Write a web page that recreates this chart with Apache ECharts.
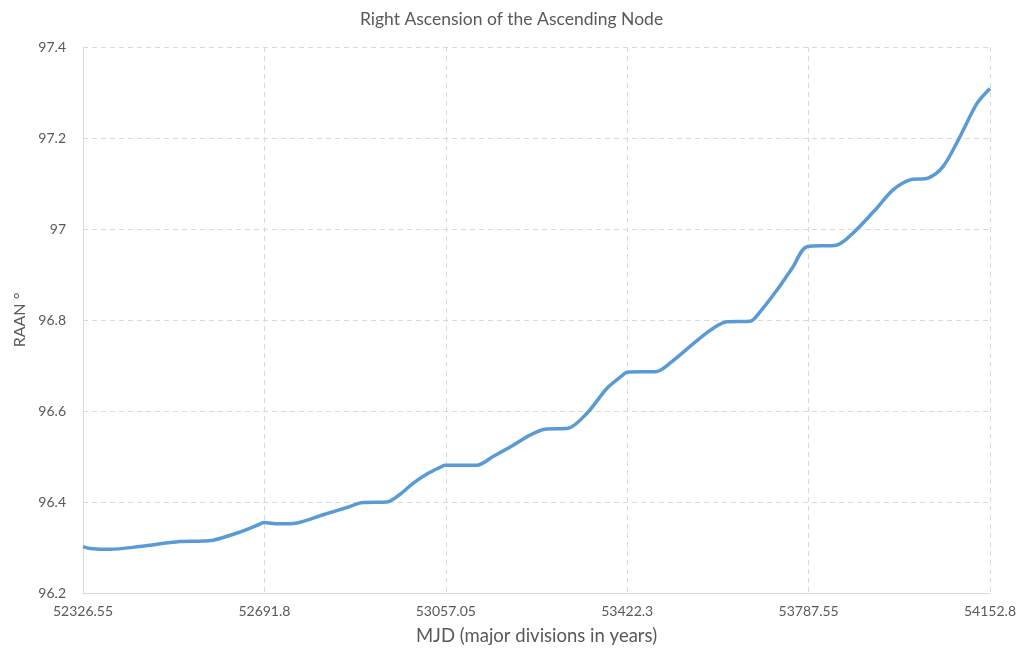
<!DOCTYPE html>
<html>
<head>
<meta charset="utf-8">
<title>Right Ascension of the Ascending Node</title>
<script src="https://cdn.jsdelivr.net/npm/echarts@6/dist/echarts.min.js"></script>
<style>
  html, body { margin: 0; padding: 0; background: #ffffff; }
  #chart { width: 1023px; height: 656px; }
</style>
</head>
<body>
<div id="chart"></div>
<script>
// Modified Julian Date of each sample
const mjd = [
  52326.55, 52340.6, 52381.0, 52440.0, 52521.9, 52560.0, 52588.3, 52640.0,
  52680.0, 52691.0, 52720.0, 52757.4, 52810.0, 52858.1, 52890.3, 52938.7,
  52965.0, 52991.0, 53020.0, 53045.3, 53055.4, 53119.9, 53152.1, 53190.0,
  53226.6, 53256.8, 53303.1, 53341.3, 53381.6, 53410.0, 53421.9, 53482.3,
  53508.4, 53568.8, 53600.0, 53623.2, 53669.5, 53689.7, 53723.9, 53755.0,
  53784.3, 53844.7, 53877.0, 53920.0, 53957.5, 53991.7, 54027.9, 54058.1,
  54092.4, 54126.6, 54152.8
];
// Right ascension of the ascending node, degrees
const raan = [
  96.302, 96.298, 96.296, 96.302, 96.313, 96.314, 96.316, 96.333,
  96.350, 96.355, 96.352, 96.354, 96.372, 96.388, 96.399, 96.400,
  96.417, 96.441, 96.462, 96.476, 96.481, 96.481, 96.500, 96.523,
  96.547, 96.560, 96.562, 96.595, 96.650, 96.676, 96.685, 96.687,
  96.705, 96.760, 96.785, 96.796, 96.797, 96.818, 96.866, 96.915,
  96.961, 96.965, 96.991, 97.040, 97.086, 97.108, 97.112, 97.137,
  97.203, 97.276, 97.309
];

// Axis origin and yearly divisions
const mjdStart = 52326.55;
const yearDays = 365.25;
const yearCount = 5;

const points = mjd.map((d, i) => [d - mjdStart, raan[i]]);

const textColor = '#595959';
const gridColor = '#d9d9d9';
const font = 'Lato, "Liberation Sans", sans-serif';

const chart = echarts.init(document.getElementById('chart'), null, { renderer: 'canvas' });
chart.setOption({
  animation: false,
  backgroundColor: '#ffffff',
  title: {
    text: 'Right Ascension of the Ascending Node',
    left: 'center',
    top: 5,
    textStyle: { color: textColor, fontSize: 17.5, fontWeight: 'normal', fontFamily: font }
  },
  grid: { left: 83, right: 33, top: 47, bottom: 63 },
  xAxis: {
    type: 'value',
    min: 0,
    max: yearDays * yearCount,
    interval: yearDays,
    name: 'MJD (major divisions in years)',
    nameLocation: 'middle',
    nameGap: 34,
    nameTextStyle: { color: textColor, fontSize: 18.5, fontFamily: font },
    axisLine: { show: true, lineStyle: { color: gridColor, width: 1 } },
    axisTick: { show: false },
    axisLabel: {
      color: textColor, fontSize: 14, fontFamily: font, margin: 11,
      showMinLabel: true, showMaxLabel: true,
      formatter: v => String(Math.round((v + mjdStart) * 100) / 100)
    },
    splitLine: { show: true, lineStyle: { color: gridColor, type: [5, 4], width: 1 } }
  },
  yAxis: {
    type: 'value',
    min: 96.2,
    max: 97.4,
    interval: 0.2,
    name: 'RAAN °',
    nameLocation: 'middle',
    nameGap: 52,
    nameRotate: 90,
    nameTextStyle: { color: textColor, fontSize: 16, fontFamily: font },
    axisLine: { show: true, lineStyle: { color: gridColor, width: 1 } },
    axisTick: { show: false },
    axisLabel: {
      color: textColor, fontSize: 14, fontFamily: font, margin: 17,
      formatter: v => String(Math.round(v * 10) / 10)
    },
    splitLine: { show: true, lineStyle: { color: gridColor, type: [5, 4], width: 1 } }
  },
  series: [{
    type: 'line',
    data: points,
    showSymbol: false,
    smooth: 0.3,
    lineStyle: { color: '#5b9bd5', width: 3.5 },
    itemStyle: { color: '#5b9bd5' }
  }]
});
</script>
</body>
</html>
